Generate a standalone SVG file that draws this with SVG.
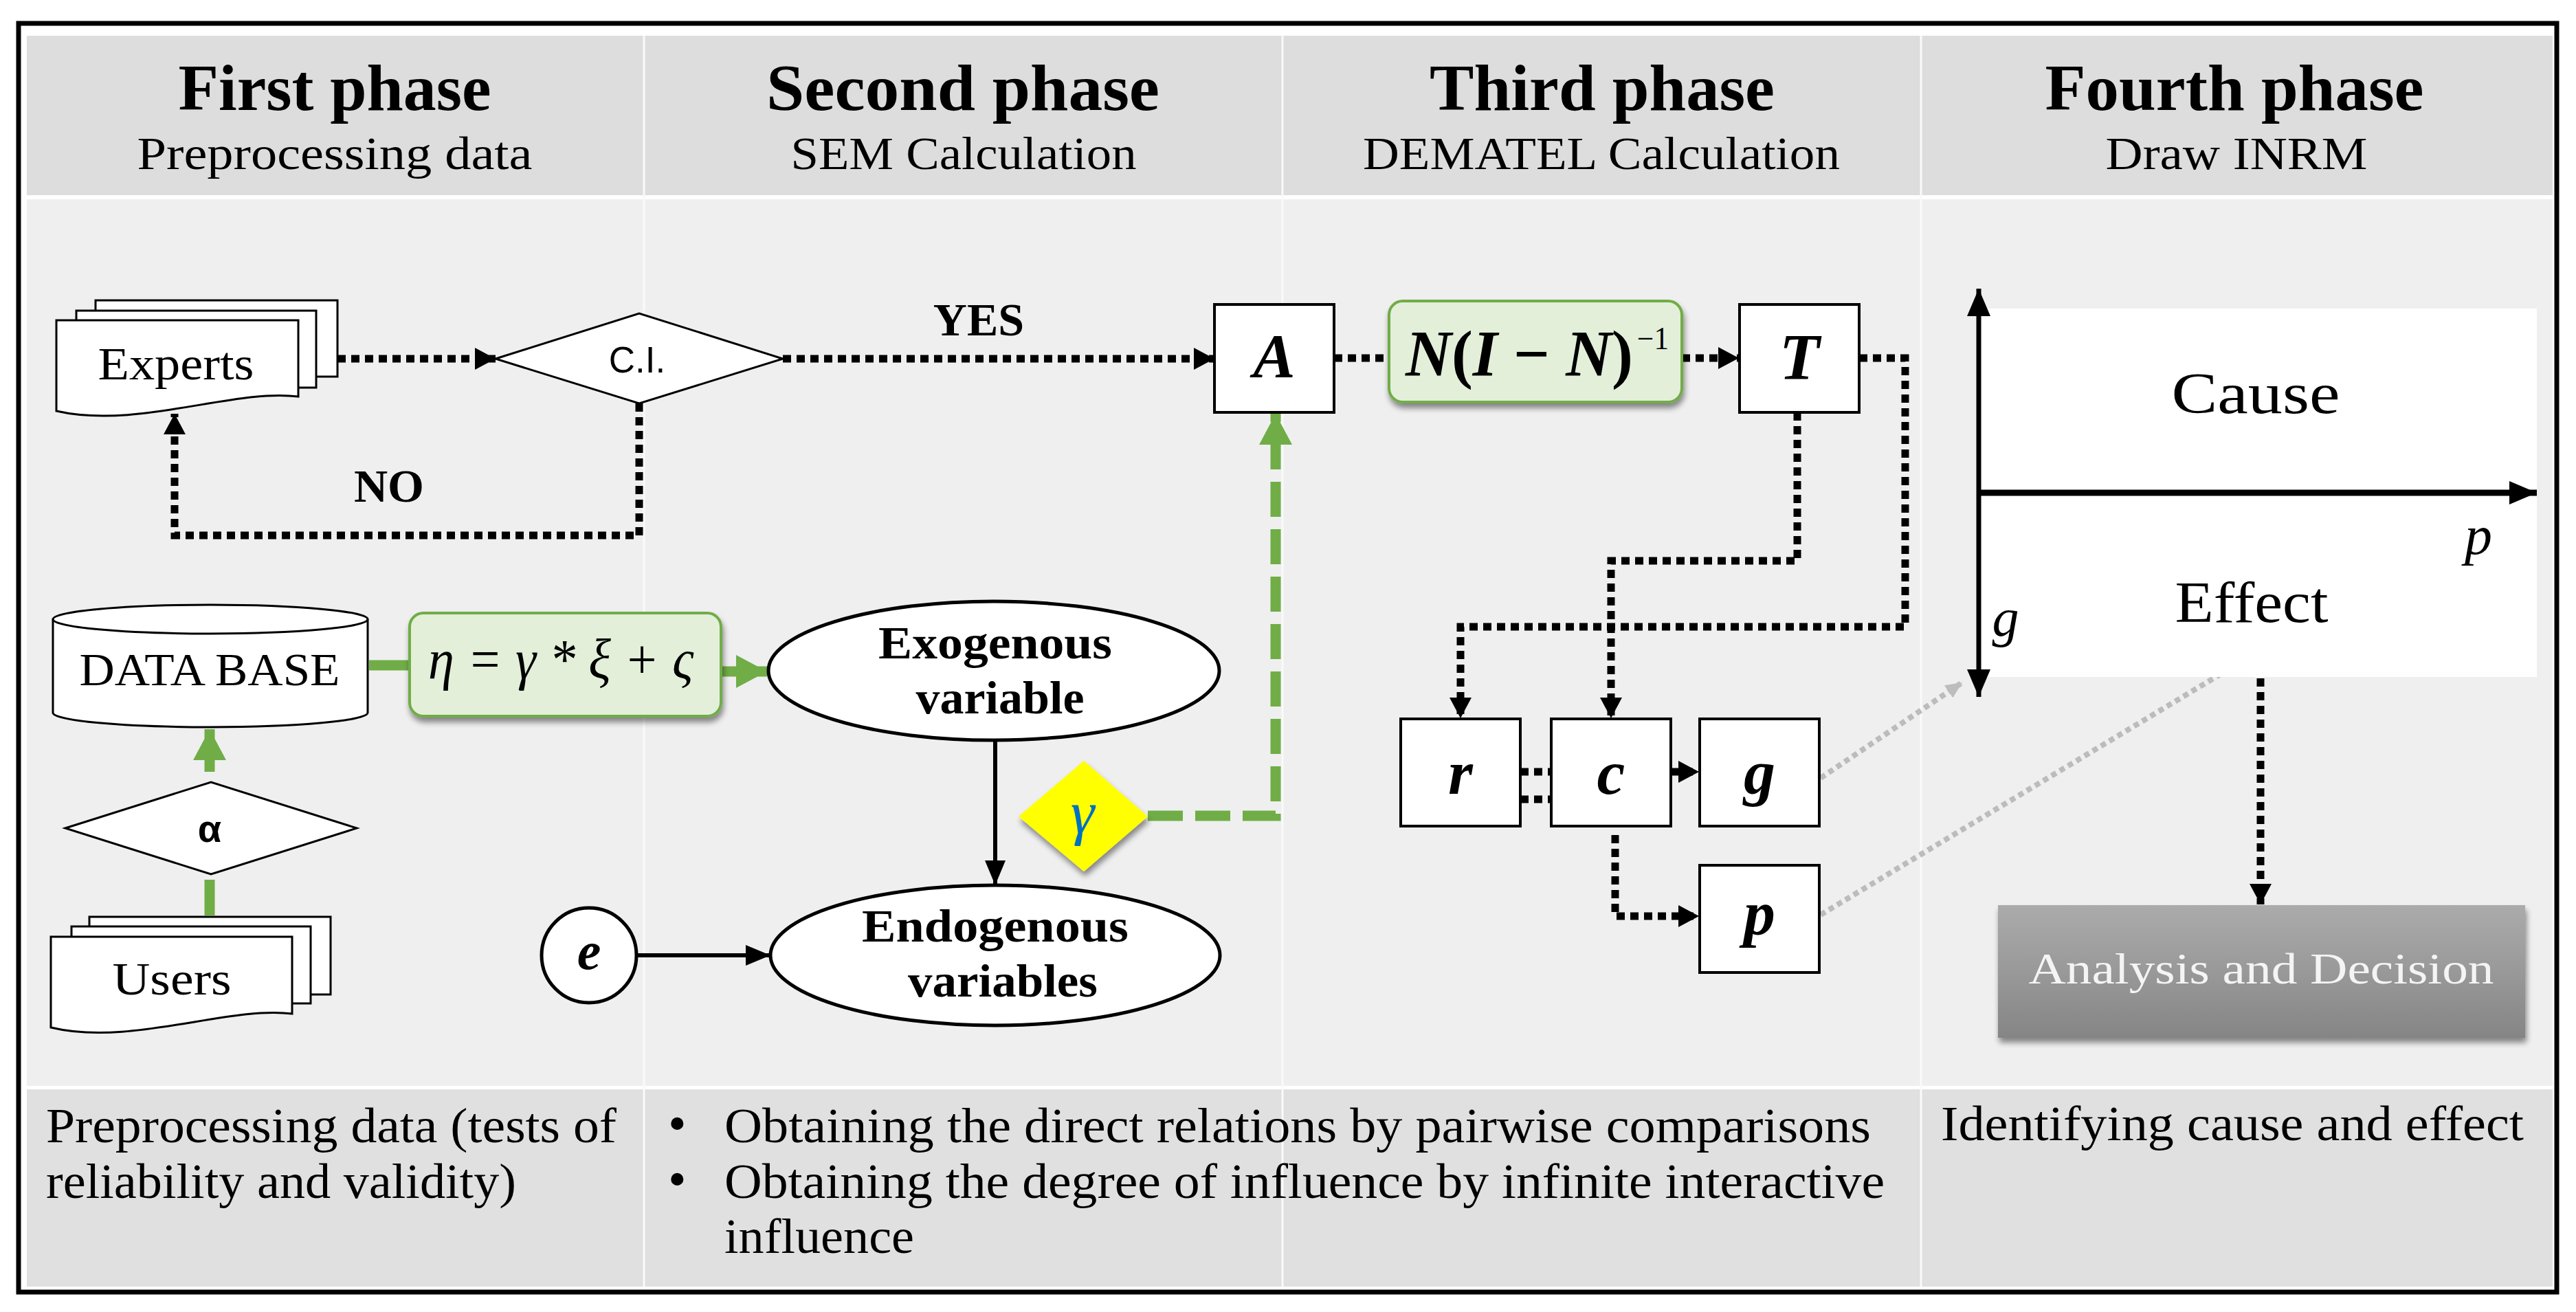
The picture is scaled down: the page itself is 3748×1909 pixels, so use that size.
<svg xmlns="http://www.w3.org/2000/svg" width="3748" height="1909" viewBox="0 0 3748 1909">
<defs>
<style>
.t{font-family:'Liberation Serif','DejaVu Serif',serif;fill:#000}
.b{font-weight:bold}
.i{font-style:italic}
.s{font-family:'Liberation Sans','DejaVu Sans',sans-serif;fill:#000}
.box{fill:#fff;stroke:#000;stroke-width:4}
.thin{fill:#fff;stroke:#000;stroke-width:3}
.ell{fill:#fff;stroke:#000;stroke-width:5}
.dot{fill:none;stroke:#000;stroke-width:11;stroke-dasharray:12 8}
.gdot{fill:none;stroke:#bcbcbc;stroke-width:8;stroke-dasharray:8 6}
.solid{fill:none;stroke:#000;stroke-width:6}
.green{fill:none;stroke:#70ad47;stroke-width:15}
.gdash{fill:none;stroke:#70ad47;stroke-width:15;stroke-dasharray:51 18}
.gbox{fill:#e3efd9;stroke:#70ad47;stroke-width:4}
</style>
<marker id="ahk" viewBox="0 0 30 32" refX="30" refY="16" markerWidth="30" markerHeight="32" markerUnits="userSpaceOnUse" orient="auto"><path d="M0,0 L30,16 L0,32 z" fill="#000"/></marker>
<marker id="ahs" viewBox="0 0 36 30" refX="36" refY="15" markerWidth="36" markerHeight="30" markerUnits="userSpaceOnUse" orient="auto"><path d="M0,0 L36,15 L0,30 z" fill="#000"/></marker>
<marker id="ahg" viewBox="0 0 45 48" refX="45" refY="24" markerWidth="45" markerHeight="48" markerUnits="userSpaceOnUse" orient="auto"><path d="M0,0 L45,24 L0,48 z" fill="#70ad47"/></marker>
<marker id="aha" viewBox="0 0 40 34" refX="40" refY="17" markerWidth="40" markerHeight="34" markerUnits="userSpaceOnUse" orient="auto-start-reverse"><path d="M0,0 L40,17 L0,34 z" fill="#000"/></marker>
<marker id="ahgr" viewBox="0 0 24 22" refX="24" refY="11" markerWidth="24" markerHeight="22" markerUnits="userSpaceOnUse" orient="auto"><path d="M0,0 L24,11 L0,22 z" fill="#bdbdbd"/></marker>
<filter id="sh" x="-10%" y="-20%" width="120%" height="150%">
<feGaussianBlur in="SourceAlpha" stdDeviation="4"/>
<feOffset dx="2" dy="7" result="o"/>
<feComponentTransfer><feFuncA type="linear" slope="0.45"/></feComponentTransfer>
<feMerge><feMergeNode/><feMergeNode in="SourceGraphic"/></feMerge>
</filter>
<linearGradient id="gray" x1="0" y1="0" x2="0" y2="1">
<stop offset="0" stop-color="#ababab"/>
<stop offset="0.5" stop-color="#999999"/>
<stop offset="1" stop-color="#858585"/>
</linearGradient>
<linearGradient id="gfill" x1="0" y1="0" x2="0" y2="1">
<stop offset="0" stop-color="#e6f1de"/>
<stop offset="1" stop-color="#d9ebcc"/>
</linearGradient>
</defs>

<g id="background">
<rect x="0" y="0" width="3748" height="1909" fill="#fff"/>
<rect x="39" y="52" width="3675" height="232" fill="#dddddd"/>
<rect x="39" y="290" width="3675" height="1290" fill="#efefef"/>
<rect x="39" y="1585" width="3675" height="287" fill="#e0e0e0"/>
<g stroke="#fafafa" stroke-width="3">
<line x1="937" y1="52" x2="937" y2="1872"/>
<line x1="1866" y1="52" x2="1866" y2="1872"/>
<line x1="2795" y1="52" x2="2795" y2="1872"/>
</g>
<rect x="27" y="34" width="3693" height="1846" fill="none" stroke="#000" stroke-width="7"/>
</g>

<g id="headers">
<text class="t b" x="487" y="160" font-size="95" text-anchor="middle" textLength="455" lengthAdjust="spacingAndGlyphs">First phase</text>
<text class="t b" x="1401" y="160" font-size="95" text-anchor="middle" textLength="572" lengthAdjust="spacingAndGlyphs">Second phase</text>
<text class="t b" x="2331" y="160" font-size="95" text-anchor="middle" textLength="502" lengthAdjust="spacingAndGlyphs">Third phase</text>
<text class="t b" x="3251" y="160" font-size="95" text-anchor="middle" textLength="551" lengthAdjust="spacingAndGlyphs">Fourth phase</text>
<text class="t" x="487" y="246" font-size="68" text-anchor="middle" textLength="575" lengthAdjust="spacingAndGlyphs">Preprocessing data</text>
<text class="t" x="1402" y="246" font-size="68" text-anchor="middle" textLength="503" lengthAdjust="spacingAndGlyphs">SEM Calculation</text>
<text class="t" x="2330" y="246" font-size="68" text-anchor="middle" textLength="694" lengthAdjust="spacingAndGlyphs">DEMATEL Calculation</text>
<text class="t" x="3254" y="246" font-size="68" text-anchor="middle" textLength="381" lengthAdjust="spacingAndGlyphs">Draw INRM</text>
</g>

<g id="connectors">
<path class="dot" d="M491,522 H721" marker-end="url(#ahk)"/>
<path class="dot" d="M1139,522 H1767" marker-end="url(#ahk)"/>
<path class="dot" d="M930,587 V779 H254 V602" marker-end="url(#ahk)"/>
<path class="dot" d="M1941,521 H2021"/>
<path class="dot" d="M2447,521 H2530" marker-end="url(#ahk)"/>
<path class="dot" d="M2705,521 H2772 V912 H2125 V1045" marker-end="url(#ahk)"/>
<path class="dot" d="M2615,600 V816 H2344 V1045" marker-end="url(#ahk)"/>
<path class="dot" d="M2212,1123 H2257"/>
<path class="dot" d="M2212,1163 H2257"/>
<path class="dot" d="M2431,1123 H2472" marker-end="url(#ahk)"/>
<path class="dot" d="M2350,1215 V1333 H2472" marker-end="url(#ahk)"/>
<path class="dot" d="M3289,987 V1316" marker-end="url(#ahk)"/>
<path class="gdot" d="M2649,1132 L2855,993" marker-end="url(#ahgr)"/>
<path class="gdot" d="M2649,1331 L3553,787" marker-end="url(#ahgr)"/>
<path class="green" d="M537,968 H596"/>
<path class="green" d="M1049,977 H1116" marker-end="url(#ahg)"/>
<path class="green" d="M305,1123 V1061" marker-end="url(#ahg)"/>
<path class="green" d="M305,1332 V1280"/>
<path class="gdash" d="M1670,1187 H1856 V602" marker-end="url(#ahg)"/>
<path class="solid" d="M1448,1077 V1288" marker-end="url(#ahs)"/>
<path class="solid" d="M927,1390 H1121" marker-end="url(#ahs)"/>
</g>

<g id="experts">
<rect class="thin" x="139" y="437" width="352" height="111"/>
<rect class="thin" x="111" y="452" width="349" height="112"/>
<path class="thin" d="M82,466 H434 V577 C340,565 200,625 82,598 Z"/>
<text class="t" x="256" y="552" font-size="68" text-anchor="middle" textLength="227" lengthAdjust="spacingAndGlyphs">Experts</text>
</g>

<g id="ci">
<polygon class="thin" points="721,522 930,456 1139,522 930,587"/>
<text class="s" x="927" y="542" font-size="53" text-anchor="middle">C.I.</text>
</g>

<g id="labels">
<text class="t b" x="1424" y="488" font-size="68" text-anchor="middle">YES</text>
<text class="t b" x="566" y="730" font-size="68" text-anchor="middle">NO</text>
</g>

<g id="database">
<path class="thin" d="M77,901 V1037 A229,21 0 0 0 535,1037 V901"/>
<ellipse class="thin" cx="306" cy="901" rx="229" ry="21"/>
<text class="t" x="305" y="997" font-size="68" text-anchor="middle" textLength="379" lengthAdjust="spacingAndGlyphs">DATA BASE</text>
</g>

<g id="sem-formula">
<rect class="gbox" x="596" y="892" width="453" height="150" rx="20" fill="url(#gfill)" filter="url(#sh)"/>
<text class="t i" x="623" y="987" font-size="82" textLength="386" lengthAdjust="spacingAndGlyphs">η = γ * ξ + ς</text>
</g>

<g id="alpha">
<polygon class="thin" points="95,1205 307,1138 519,1205 307,1272"/>
<text class="s b" x="305" y="1225" font-size="56" text-anchor="middle">α</text>
</g>

<g id="users">
<rect class="thin" x="130" y="1334" width="351" height="113"/>
<rect class="thin" x="104" y="1348" width="348" height="112"/>
<path class="thin" d="M74,1363 H425 V1475 C332,1463 190,1523 74,1495 Z"/>
<text class="t" x="250" y="1447" font-size="68" text-anchor="middle" textLength="173" lengthAdjust="spacingAndGlyphs">Users</text>
</g>

<g id="exogenous">
<ellipse class="ell" cx="1446" cy="976" rx="328" ry="101"/>
<text class="t b" x="1448" y="958" font-size="68" text-anchor="middle" textLength="340" lengthAdjust="spacingAndGlyphs">Exogenous</text>
<text class="t b" x="1455" y="1038" font-size="68" text-anchor="middle" textLength="245" lengthAdjust="spacingAndGlyphs">variable</text>
</g>

<g id="endogenous">
<ellipse class="ell" cx="1448" cy="1390" rx="327" ry="102"/>
<text class="t b" x="1448" y="1370" font-size="68" text-anchor="middle" textLength="388" lengthAdjust="spacingAndGlyphs">Endogenous</text>
<text class="t b" x="1459" y="1450" font-size="68" text-anchor="middle" textLength="276" lengthAdjust="spacingAndGlyphs">variables</text>
</g>

<g id="error-e">
<circle class="ell" cx="857" cy="1390" r="69"/>
<text class="t i b" x="857" y="1410" font-size="78" text-anchor="middle">e</text>
</g>

<g id="gamma">
<polygon points="1482,1188 1577,1107 1670,1188 1577,1268" fill="#ffff00" filter="url(#sh)"/>
<text class="t i" x="1575" y="1212" font-size="88" text-anchor="middle" style="fill:#0070c0">γ</text>
</g>

<g id="matrix-a">
<rect class="box" x="1767" y="443" width="174" height="157"/>
<text class="t i b" x="1854" y="549" font-size="92" text-anchor="middle">A</text>
</g>

<g id="dematel-formula">
<rect class="gbox" x="2021" y="438" width="426" height="147" rx="20" fill="url(#gfill)" filter="url(#sh)"/>
<text class="t b" x="2045" y="547" font-size="96" textLength="331" lengthAdjust="spacingAndGlyphs"><tspan class="i">N</tspan>(<tspan class="i">I</tspan> − <tspan class="i">N</tspan>)</text>
<text class="t" x="2382" y="508" font-size="46" textLength="46" lengthAdjust="spacingAndGlyphs">−1</text>
</g>

<g id="matrix-t">
<rect class="box" x="2531" y="443" width="174" height="157"/>
<text class="t i b" x="2618" y="552" font-size="96" text-anchor="middle">T</text>
</g>

<g id="box-r">
<rect class="box" x="2038" y="1046" width="174" height="156"/>
<text class="t i b" x="2125" y="1155" font-size="92" text-anchor="middle">r</text>
</g>
<g id="box-c">
<rect class="box" x="2257" y="1046" width="174" height="156"/>
<text class="t i b" x="2344" y="1155" font-size="92" text-anchor="middle">c</text>
</g>
<g id="box-g">
<rect class="box" x="2473" y="1046" width="174" height="156"/>
<text class="t i b" x="2560" y="1155" font-size="92" text-anchor="middle">g</text>
</g>
<g id="box-p">
<rect class="box" x="2473" y="1259" width="174" height="156"/>
<text class="t i b" x="2560" y="1360" font-size="92" text-anchor="middle">p</text>
</g>

<g id="inrm">
<rect x="2882" y="449" width="809" height="536" fill="#fff"/>
<path d="M2879,420 V1014" fill="none" stroke="#000" stroke-width="7" marker-start="url(#aha)" marker-end="url(#aha)"/>
<path d="M2879,717 H3691" fill="none" stroke="#000" stroke-width="9" marker-end="url(#aha)"/>
<text class="t" x="3282" y="601" font-size="84" text-anchor="middle" textLength="245" lengthAdjust="spacingAndGlyphs">Cause</text>
<text class="t" x="3276" y="905" font-size="84" text-anchor="middle" textLength="223" lengthAdjust="spacingAndGlyphs">Effect</text>
<text class="t i" x="2918" y="925" font-size="78" text-anchor="middle">g</text>
<text class="t i" x="3606" y="806" font-size="80" text-anchor="middle">p</text>
</g>

<g id="analysis">
<rect x="2907" y="1317" width="767" height="193" fill="url(#gray)" filter="url(#sh)"/>
<text class="t" x="3290" y="1431" font-size="63" text-anchor="middle" textLength="677" lengthAdjust="spacingAndGlyphs" style="fill:#f4f4f4">Analysis and Decision</text>
</g>

<g id="footer">
<text class="t" x="67" y="1662" font-size="72" textLength="830" lengthAdjust="spacingAndGlyphs">Preprocessing data (tests of</text>
<text class="t" x="67" y="1743" font-size="72" textLength="684" lengthAdjust="spacingAndGlyphs">reliability and validity)</text>
<text class="t" x="972" y="1660" font-size="76">•</text>
<text class="t" x="972" y="1741" font-size="76">•</text>
<text class="t" x="1054" y="1662" font-size="72" textLength="1668" lengthAdjust="spacingAndGlyphs">Obtaining the direct relations by pairwise comparisons</text>
<text class="t" x="1054" y="1743" font-size="72" textLength="1688" lengthAdjust="spacingAndGlyphs">Obtaining the degree of influence by infinite interactive</text>
<text class="t" x="1054" y="1823" font-size="72" textLength="276" lengthAdjust="spacingAndGlyphs">influence</text>
<text class="t" x="2824" y="1659" font-size="72" textLength="848" lengthAdjust="spacingAndGlyphs">Identifying cause and effect</text>
</g>
</svg>
